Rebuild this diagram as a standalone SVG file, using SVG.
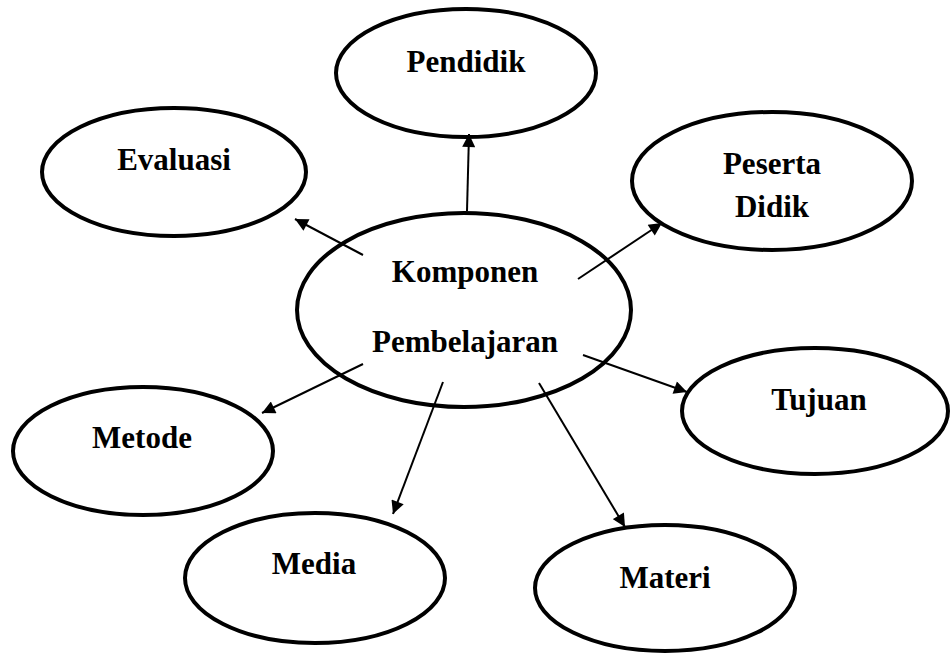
<svg xmlns="http://www.w3.org/2000/svg" width="950" height="654" viewBox="0 0 950 654">
<defs>
<marker id="arr" viewBox="0 0 10 10" refX="10" refY="5" markerWidth="7" markerHeight="6.5" markerUnits="strokeWidth" orient="auto">
<path d="M0,0 L10,5 L0,10 z" fill="#000"/>
</marker>
<style>
.node ellipse{fill:#fff;stroke:#000;stroke-width:4}
.node text{font-family:"Liberation Serif","Times New Roman",serif;font-weight:bold;font-size:31px;text-anchor:middle;fill:#000}
#connectors line{stroke:#000;stroke-width:2;marker-end:url(#arr)}
</style>
</defs>
<rect width="950" height="654" fill="#fff"/>
<g id="n-pendidik" class="node"><ellipse cx="466" cy="73" rx="130" ry="64"/><text x="466" y="72">Pendidik</text></g>
<g id="n-evaluasi" class="node"><ellipse cx="174" cy="172" rx="132" ry="64"/><text x="174" y="170">Evaluasi</text></g>
<g id="n-peserta" class="node"><ellipse cx="772" cy="181" rx="140" ry="69"/><text x="772" y="174">Peserta</text><text x="772" y="217">Didik</text></g>
<g id="n-metode" class="node"><ellipse cx="143" cy="451" rx="130" ry="64"/><text x="142" y="448">Metode</text></g>
<g id="n-tujuan" class="node"><ellipse cx="815" cy="411" rx="133" ry="63"/><text x="819" y="410">Tujuan</text></g>
<g id="n-media" class="node"><ellipse cx="315" cy="578" rx="130" ry="65"/><text x="314" y="574">Media</text></g>
<g id="n-materi" class="node"><ellipse cx="665" cy="588" rx="130" ry="63"/><text x="665" y="588">Materi</text></g>
<g id="n-komponen" class="node"><ellipse cx="464" cy="310" rx="167" ry="97"/><text x="465" y="282">Komponen</text><text x="465" y="352">Pembelajaran</text></g>
<g id="connectors">
<line x1="467" y1="211" x2="469" y2="134"/>
<line x1="363" y1="255" x2="295" y2="219"/>
<line x1="578" y1="279" x2="662" y2="223"/>
<line x1="583" y1="355" x2="687" y2="392"/>
<line x1="539" y1="383" x2="625" y2="527"/>
<line x1="443" y1="382" x2="393" y2="514"/>
<line x1="363" y1="364" x2="262" y2="413"/>
</g>
</svg>
